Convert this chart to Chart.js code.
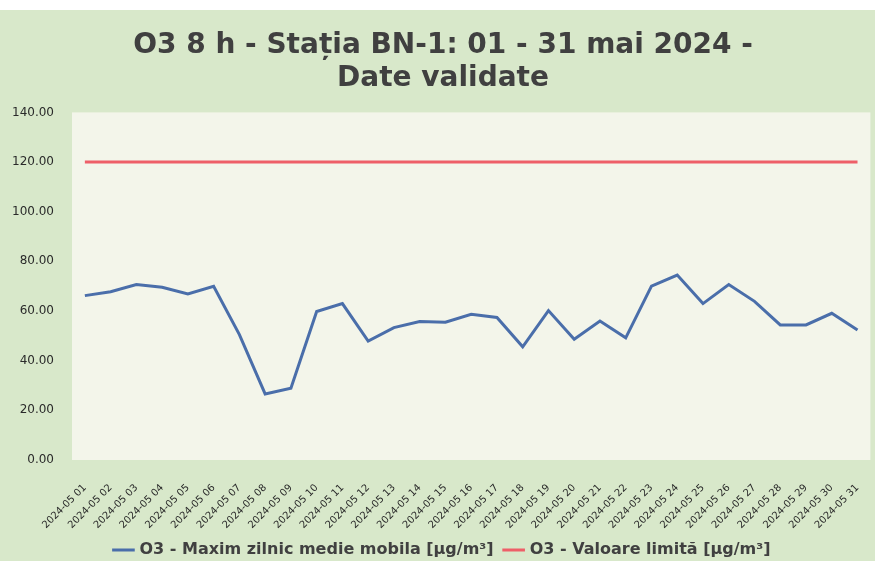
<!DOCTYPE html>
<html>
<head>
<meta charset="utf-8">
<script src="https://cdn.jsdelivr.net/npm/chart.js@4/dist/chart.umd.min.js"></script>
<style>
	body { margin: 0; background: #ffffff; }
	#box { position: absolute; left: 0; top: 10px; width: 875px; height: 551px; background: #d8e8ca; }
</style>
</head>
<body>
<div id="box"><canvas id="chart" width="875" height="551"></canvas></div>
<script>
const days = [];
for (let d = 1; d <= 31; d++) days.push('2024-05 ' + String(d).padStart(2, '0'));

const maxDaily = [66.2, 67.8, 70.7, 69.6, 66.9, 70.0, 50.5, 26.6, 28.9, 59.8,
	63.0, 47.9, 53.3, 55.8, 55.5, 58.7, 57.4, 45.6, 60.2, 48.6,
	56.0, 49.2, 70.0, 74.5, 63.0, 70.7, 63.9, 54.4, 54.4, 59.1, 52.4];
const limitValue = new Array(31).fill(120);

const yTicks = [0, 20, 40, 60, 80, 100, 120, 140];

const plotBg = {
	id: 'plotBg',
	beforeDraw(chart) {
		const { ctx, chartArea: a } = chart;
		ctx.save();
		ctx.fillStyle = '#f3f5ea';
		ctx.fillRect(a.left, a.top, a.right - a.left, a.bottom - a.top);
		ctx.restore();
	}
};

const config = {
	type: 'line',
	data: {
		labels: days,
		datasets: [{
			label: 'O3 - Maxim zilnic medie mobila [µg/m³]',
			data: maxDaily,
			borderColor: '#4a6eaa',
			borderWidth: 3,
			pointRadius: 0,
			tension: 0
		}, {
			label: 'O3 - Valoare limită [µg/m³]',
			data: limitValue,
			borderColor: '#ee5f68',
			borderWidth: 3,
			pointRadius: 0
		}]
	},
	options: {
		responsive: false,
		animation: false,
		layout: { padding: { left: 2, right: -9, top: 0, bottom: -7 } },
		scales: {
			x: {
				offset: true,
				grid: { display: false, drawTicks: true, tickLength: 13 },
				border: { display: false },
				afterFit(axis) { axis.height = 70; },
				ticks: {
					autoSkip: false,
					maxRotation: 45,
					minRotation: 45,
					padding: 9,
					color: '#2a2a2a',
					font: { family: 'DejaVu Sans', size: 10 }
				}
			},
			y: {
				min: 0,
				max: 140,
				afterBuildTicks(axis) { axis.ticks = yTicks.map(v => ({ value: v })); },
				grid: { display: false },
				border: { display: false },
				ticks: {
					padding: 10,
					color: '#2a2a2a',
					font: { family: 'DejaVu Sans', size: 12 },
					callback: v => v.toFixed(2)
				}
			}
		},
		plugins: {
			title: {
				display: true,
				text: ['O3 8 h - Stația BN-1: 01 - 31 mai 2024 -', 'Date validate'],
				color: '#404040',
				font: { family: 'DejaVu Sans', size: 28, weight: 'bold', lineHeight: 1.15 },
				padding: { top: 20, bottom: 18 }
			},
			legend: {
				position: 'bottom',
				labels: {
					usePointStyle: true,
					pointStyle: 'line',
					padding: 12,
					color: '#404040',
					font: { family: 'DejaVu Sans', size: 16, weight: 'bold' }
				}
			},
			tooltip: { enabled: false }
		}
	},
	plugins: [plotBg]
};

new Chart(document.getElementById('chart'), config);
</script>
</body>
</html>
